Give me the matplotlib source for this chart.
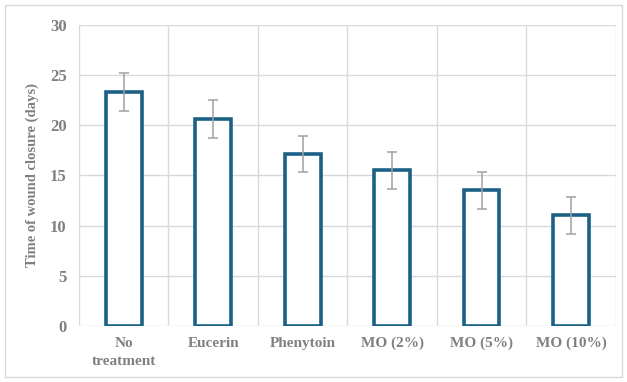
import numpy as np
import matplotlib.pyplot as plt
from matplotlib.patches import Rectangle

# Wound closure time per treatment group
groups = ['No\ntreatment', 'Eucerin', 'Phenytoin', 'MO (2%)', 'MO (5%)', 'MO (10%)']
days = [23.3, 20.6, 17.1, 15.5, 13.5, 11.0]
sd = [1.9, 1.9, 1.8, 1.85, 1.85, 1.85]

plt.rcParams['font.family'] = ['Liberation Serif', 'DejaVu Serif']
text_gray = '#808080'
bar_blue = '#1B6185'

fig = plt.figure(figsize=(6.27, 3.82), dpi=100)
ax = fig.add_axes([0.126, 0.147, 0.856, 0.788])

x = np.arange(len(groups))
ax.bar(x, days, width=0.4, facecolor='white', edgecolor=bar_blue,
       linewidth=2.6, zorder=3)
ax.errorbar(x, days, yerr=sd, fmt='none', ecolor='#A0A0A0',
            elinewidth=1.1, capsize=3.5, capthick=1.1, zorder=4)

ax.set_xlim(-0.5, len(groups) - 0.5)
ax.set_ylim(0, 30)
ax.set_yticks(range(0, 31, 5))
ax.set_xticks(x)
ax.set_xticklabels(groups, fontsize=11, fontweight='bold', color=text_gray,
                   linespacing=1.5)
ax.tick_params(axis='y', labelsize=12, labelcolor=text_gray, length=0, pad=9)
ax.tick_params(axis='x', length=0, pad=8)
for lbl in ax.get_yticklabels():
    lbl.set_fontweight('bold')

# vertical grid sits between categories
ax.set_xticks(np.arange(-0.5, len(groups)), minor=True)
ax.grid(axis='x', which='minor', color='#D9D9D9', linewidth=1, zorder=0)
ax.grid(axis='y', which='major', color='#D9D9D9', linewidth=1, zorder=0)
ax.tick_params(axis='x', which='minor', length=0)
for s in ax.spines.values():
    s.set_visible(False)

ax.set_ylabel('Time of wound closure (days)', fontsize=10.5, fontweight='bold',
              color=text_gray, labelpad=8)

# light frame around the whole chart
fig.patches.append(Rectangle((0.008, 0.012), 0.984, 0.976, transform=fig.transFigure,
                             fill=False, edgecolor='#D9D9D9', linewidth=1))

fig.savefig('out.png', dpi=100)
